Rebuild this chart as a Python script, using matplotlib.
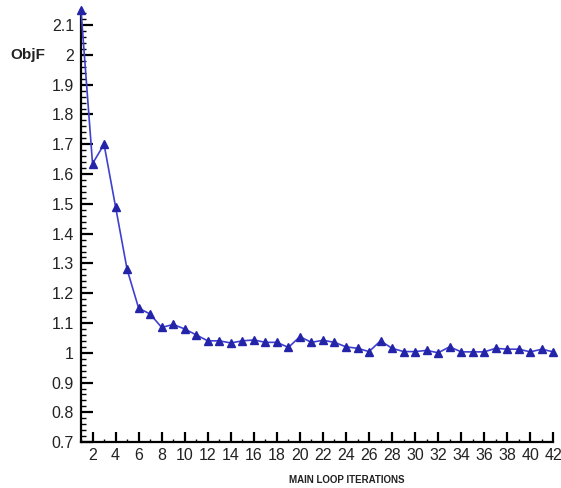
import numpy as np
import matplotlib
matplotlib.use("Agg")
import matplotlib.pyplot as plt
from matplotlib.ticker import MultipleLocator, FormatStrFormatter

# objective function per main loop iteration
iterations = list(range(1, 43))
objf = [2.15, 1.635, 1.70, 1.49, 1.28, 1.15, 1.13, 1.085, 1.095, 1.08,
        1.06, 1.04, 1.04, 1.033, 1.04, 1.043, 1.035, 1.035, 1.018, 1.054,
        1.035, 1.042, 1.035, 1.02, 1.015, 1.004, 1.04, 1.015, 1.004, 1.004,
        1.008, 1.0, 1.02, 1.003, 1.003, 1.003, 1.015, 1.012, 1.012, 1.003,
        1.012, 1.003]

plt.rcParams['font.family'] = ['Liberation Sans', 'DejaVu Sans']

fig = plt.figure(figsize=(5.61, 4.88), dpi=100)
ax = fig.add_axes([0.1444, 0.094, 0.842, 0.885])

ax.plot(iterations, objf, color='#4040d0', linewidth=1.2,
        marker='^', markersize=6, markerfacecolor='#2424a8',
        markeredgecolor='#2424a8', clip_on=False, zorder=3)

ax.set_xlim(1, 42)
ax.set_ylim(0.7, 2.15)

for s in ['top', 'right']:
    ax.spines[s].set_visible(False)
for s in ['left', 'bottom']:
    ax.spines[s].set_linewidth(1.6)

ax.xaxis.set_major_locator(MultipleLocator(2))
ax.xaxis.set_minor_locator(MultipleLocator(1))
ax.yaxis.set_major_locator(MultipleLocator(0.1))
ax.yaxis.set_minor_locator(MultipleLocator(0.02))
ax.yaxis.set_major_formatter(FormatStrFormatter('%g'))
ax.set_xticks(range(2, 43, 2))

ax.tick_params(axis='both', which='major', direction='in', labelsize=11.5,
               width=1.6, color='black', labelcolor='#222222')
ax.tick_params(axis='both', which='minor', direction='in', width=1.0)
ax.tick_params(axis='y', which='major', length=8.5, pad=5)
ax.tick_params(axis='y', which='minor', length=3.6)
ax.tick_params(axis='x', which='major', length=7, pad=4)
ax.tick_params(axis='x', which='minor', length=2.5)

fig.text(0.018, 0.887, 'ObjF', fontsize=11, fontweight='bold',
         ha='left', va='center', color='#222222')
fig.text(0.618, 0.017, 'MAIN LOOP ITERATIONS', fontsize=7, fontweight='bold',
         ha='center', va='center', color='#222222')

fig.savefig('out.png', dpi=100)
